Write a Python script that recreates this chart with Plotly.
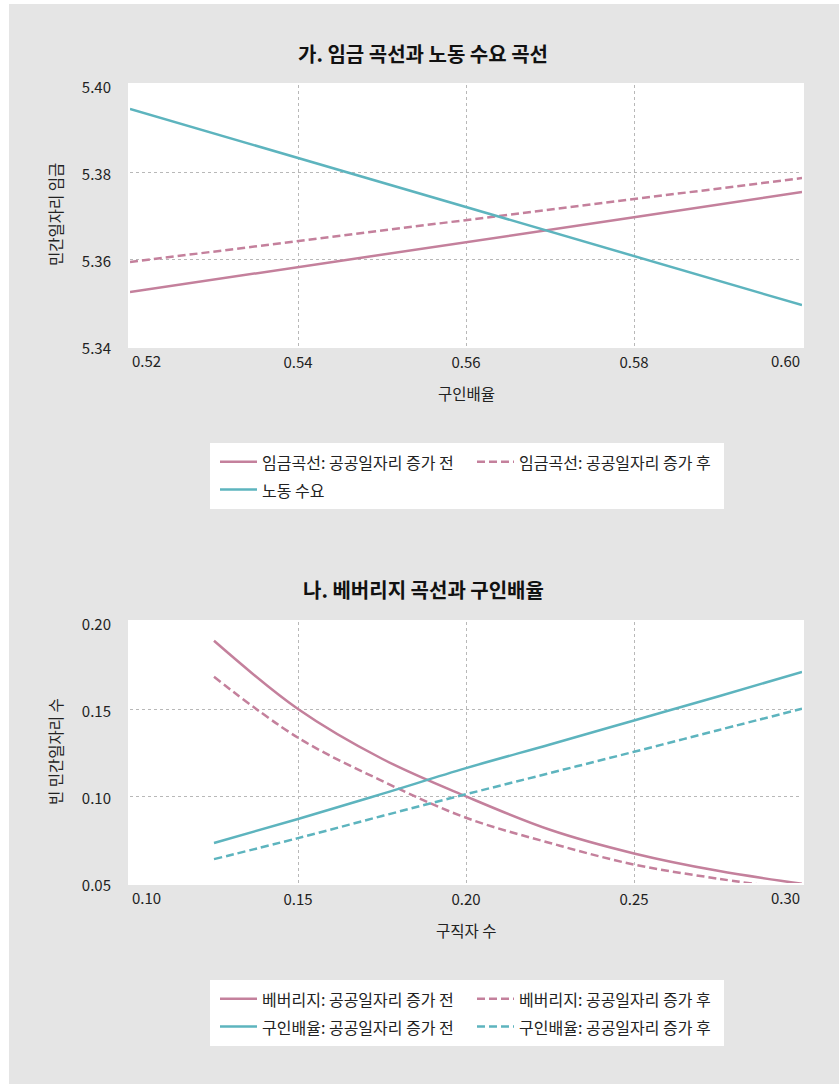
import plotly.graph_objects as go

# ---- 가. 임금 곡선과 노동 수요 곡선 ----
ratio_x = [0.52, 0.54, 0.56, 0.58, 0.60]
wage_before = [5.3524, 5.3581, 5.3639, 5.3696, 5.3754]
wage_after = [5.3593, 5.3641, 5.3690, 5.3738, 5.3786]
labor_demand = [5.3945, 5.3832, 5.3720, 5.3607, 5.3494]

# ---- 나. 베버리지 곡선과 구인배율 ----
seekers_x = [0.125, 0.15, 0.175, 0.20, 0.225, 0.25, 0.275, 0.30]
beveridge_before = [0.1892, 0.1500, 0.1214, 0.0998, 0.0806, 0.0670, 0.0570, 0.0495]
beveridge_after = [0.1685, 0.1335, 0.1087, 0.0875, 0.0730, 0.0606, 0.0525, 0.0458]
ratio_before = [0.0730, 0.0868, 0.1012, 0.1160, 0.1296, 0.1434, 0.1572, 0.1713]
ratio_after = [0.0637, 0.0758, 0.0885, 0.1010, 0.1132, 0.1254, 0.1378, 0.1502]

top_xticks = [0.52, 0.54, 0.56, 0.58, 0.60]
top_yticks = [5.34, 5.36, 5.38, 5.40]
bot_xticks = [0.10, 0.15, 0.20, 0.25, 0.30]
bot_yticks = [0.05, 0.10, 0.15, 0.20]

PINK = "#c4809c"
TEAL = "#5db4be"
GRID = "#b8b8b8"
BG = "#e5e5e5"
TXT = "#222222"
FONT = "Noto Sans CJK KR"
LW = 2.5
DASH = "8px,4px"
LEGEND_TEXT_PX = 16


def legend_label(s):
    return f'<span style="font-size:{LEGEND_TEXT_PX}px">{s}</span>'


fig = go.Figure()

fig.add_trace(go.Scatter(x=ratio_x, y=wage_before, mode="lines", name=legend_label("임금곡선: 공공일자리 증가 전"),
                         line=dict(color=PINK, width=LW), xaxis="x", yaxis="y", legend="legend"))
fig.add_trace(go.Scatter(x=ratio_x, y=wage_after, mode="lines", name=legend_label("임금곡선: 공공일자리 증가 후"),
                         line=dict(color=PINK, width=LW, dash=DASH), xaxis="x", yaxis="y", legend="legend"))
fig.add_trace(go.Scatter(x=ratio_x, y=labor_demand, mode="lines", name=legend_label("노동 수요"),
                         line=dict(color=TEAL, width=LW), xaxis="x", yaxis="y", legend="legend"))

fig.add_trace(go.Scatter(x=seekers_x, y=beveridge_before, mode="lines", name=legend_label("베버리지: 공공일자리 증가 전"),
                         line=dict(color=PINK, width=LW, shape="spline"), xaxis="x2", yaxis="y2", legend="legend2"))
fig.add_trace(go.Scatter(x=seekers_x, y=beveridge_after, mode="lines", name=legend_label("베버리지: 공공일자리 증가 후"),
                         line=dict(color=PINK, width=LW, dash=DASH, shape="spline"), xaxis="x2", yaxis="y2", legend="legend2"))
fig.add_trace(go.Scatter(x=seekers_x, y=ratio_before, mode="lines", name=legend_label("구인배율: 공공일자리 증가 전"),
                         line=dict(color=TEAL, width=LW, shape="spline"), xaxis="x2", yaxis="y2", legend="legend2"))
fig.add_trace(go.Scatter(x=seekers_x, y=ratio_after, mode="lines", name=legend_label("구인배율: 공공일자리 증가 후"),
                         line=dict(color=TEAL, width=LW, dash=DASH, shape="spline"), xaxis="x2", yaxis="y2", legend="legend2"))

H_TOP = 261 / 798
axis_common = dict(showgrid=True, gridcolor=GRID, griddash="dot", gridwidth=1, zeroline=False,
                   showline=True, linecolor="white", linewidth=2, mirror=True, ticks="",
                   tickfont=dict(family=FONT, size=15, color=TXT))


def edge_text(vals):
    return [""] + [f"{v:.2f}" for v in vals[1:-1]] + [""]


legend_common = dict(orientation="h", x=80 / 672, xanchor="left", yanchor="top",
                     bgcolor="white", borderwidth=0, entrywidth=200, itemwidth=37, indentation=5,
                     font=dict(family=FONT, size=19, color=TXT))

fig.update_layout(
    width=839, height=1084,
    margin=dict(l=130, r=37, t=85, b=201),
    paper_bgcolor=BG, plot_bgcolor="white",
    font=dict(family=FONT, size=14, color=TXT),
    xaxis=dict(axis_common, domain=[0, 1], anchor="y", range=[0.52, 0.60],
               tickvals=top_xticks, ticktext=edge_text(top_xticks), ticklabelstandoff=2),
    yaxis=dict(axis_common, domain=[1 - H_TOP, 1], anchor="x", range=[5.34, 5.40],
               tickvals=top_yticks, tickformat=".2f", ticklabelstandoff=14, ticklabelshift=3),
    xaxis2=dict(axis_common, domain=[0, 1], anchor="y2", range=[0.10, 0.30],
                tickvals=bot_xticks, ticktext=edge_text(bot_xticks), ticklabelstandoff=2),
    yaxis2=dict(axis_common, domain=[0, H_TOP], anchor="x2", range=[0.05, 0.20],
                tickvals=bot_yticks, tickformat=".2f", ticklabelstandoff=14, ticklabelshift=3),
    legend=dict(legend_common, y=(883 - 443) / 798),
    legend2=dict(legend_common, y=(883 - 980) / 798),
    showlegend=True,
)

annotations = []
# panel titles
for text, py in [("<b>가. 임금 곡선과 노동 수요 곡선</b>", 53), ("<b>나. 베버리지 곡선과 구인배율</b>", 589)]:
    annotations.append(dict(text=text, xref="paper", yref="paper", x=(423 - 130) / 672, y=(883 - py) / 798,
                            xanchor="center", yanchor="middle", showarrow=False,
                            font=dict(family=FONT, size=20, color="#111111")))
# axis titles
for text, px, py, ang in [("구인배율", 466, 393, 0), ("구직자 수", 466, 930, 0),
                          ("민간일자리 임금", 55, 215, -90), ("빈 민간일자리 수", 55, 752, -90)]:
    annotations.append(dict(text=text, xref="paper", yref="paper", x=(px - 130) / 672, y=(883 - py) / 798,
                            xanchor="center", yanchor="middle", textangle=ang, showarrow=False,
                            font=dict(family=FONT, size=15.5, color=TXT)))
# end tick labels kept inside the plotting width
for xr, yr, vals in [("x", "y domain", top_xticks), ("x2", "y2 domain", bot_xticks)]:
    for v, anc in [(vals[0], "left"), (vals[-1], "right")]:
        annotations.append(dict(text=f"{v:.2f}", xref=xr, yref=yr, x=v, y=0, xanchor=anc, yanchor="top",
                                yshift=-2, showarrow=False, font=dict(family=FONT, size=15, color=TXT)))
fig.update_layout(annotations=annotations)

# thin white edge along the left and top of the canvas
fig.add_shape(type="rect", xref="paper", yref="paper", x0=-130 / 672, x1=(9 - 130) / 672,
              y0=-201 / 798, y1=(883) / 798, fillcolor="white", line_width=0, layer="above")
fig.add_shape(type="rect", xref="paper", yref="paper", x0=-130 / 672, x1=(839 - 130) / 672,
              y0=(883 - 4) / 798, y1=883 / 798, fillcolor="white", line_width=0, layer="above")

fig.write_html("out.html")
